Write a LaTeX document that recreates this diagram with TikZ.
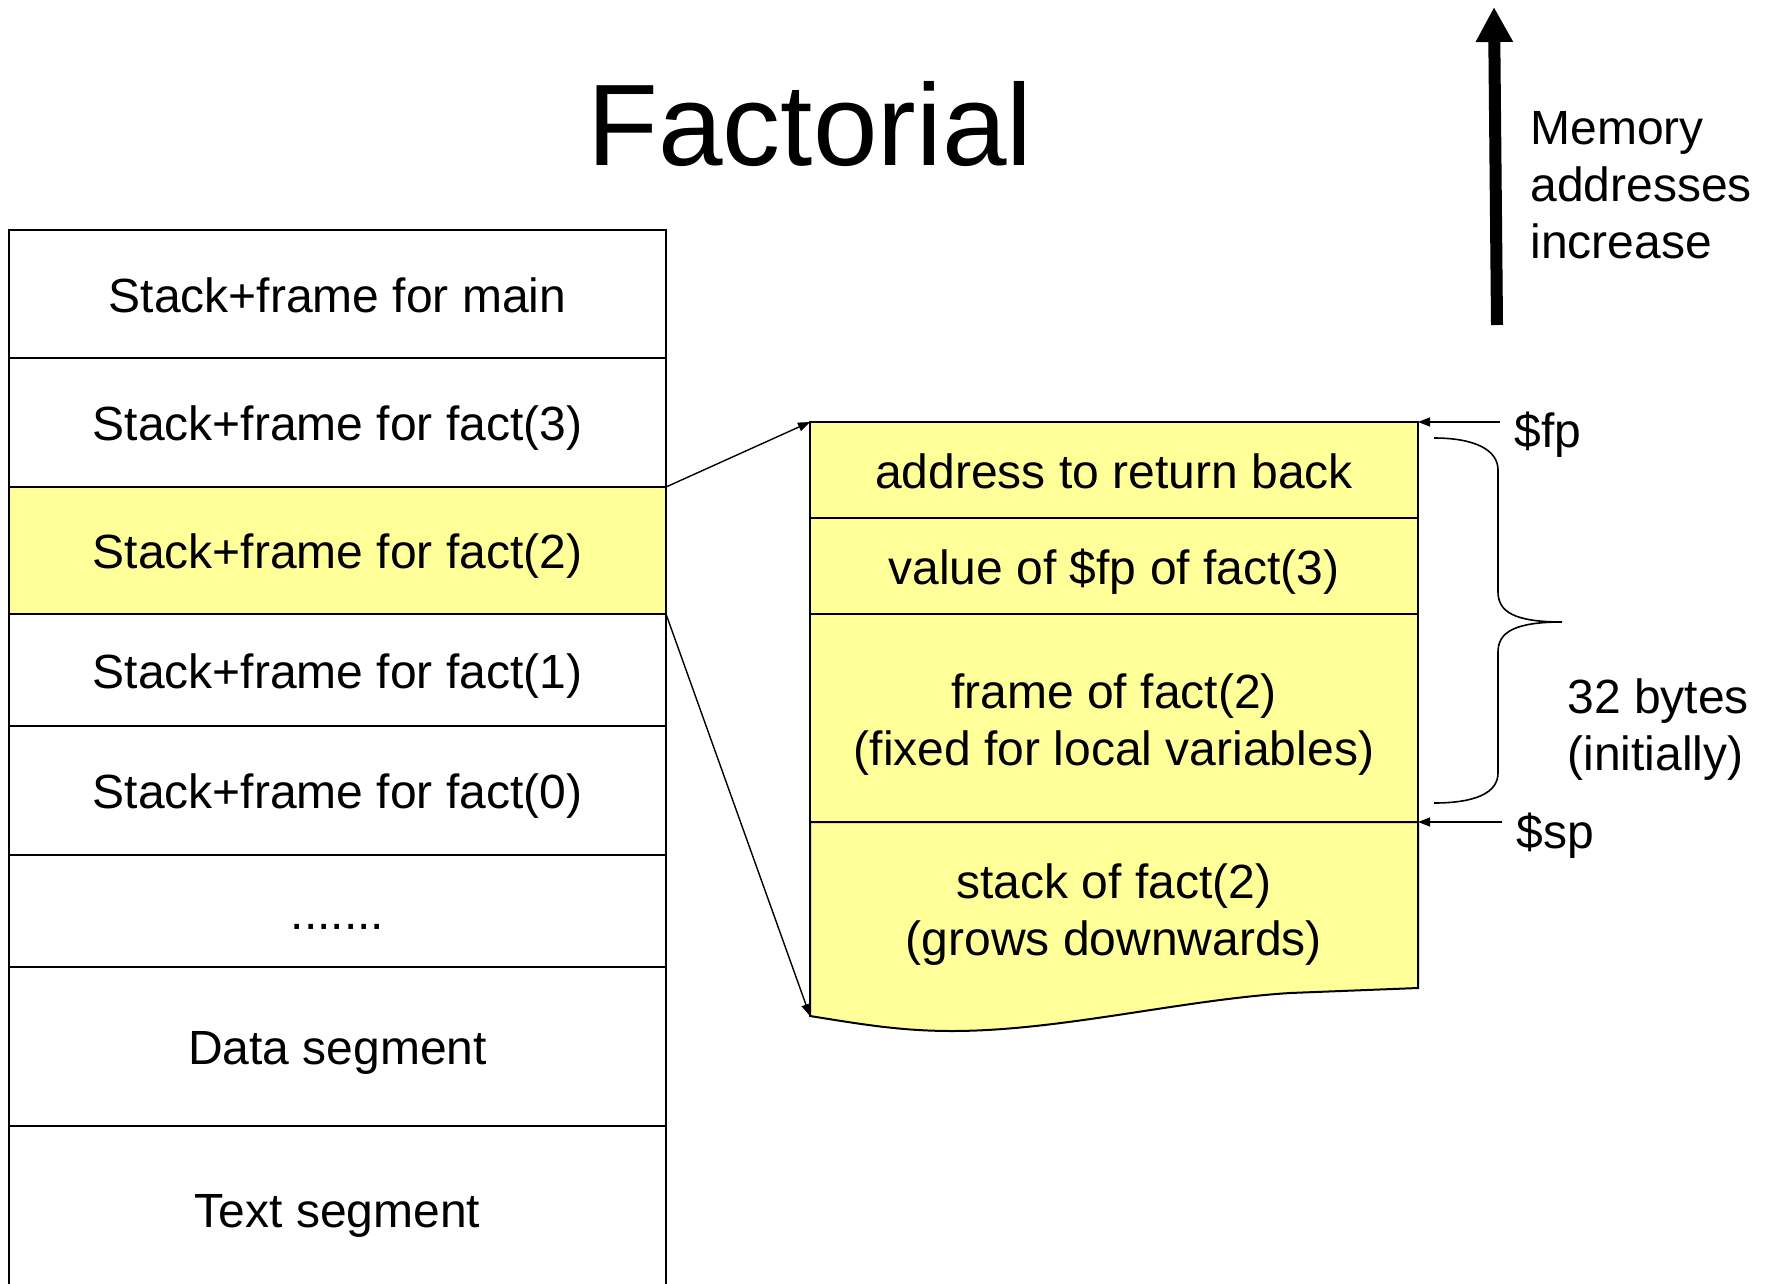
\documentclass[tikz,border=0pt]{standalone}
\usepackage{fontspec}
\setmainfont{Liberation Sans}
\usetikzlibrary{arrows.meta, positioning}
\definecolor{hiyellow}{RGB}{255,255,153}

\begin{document}
\begin{tikzpicture}[x=0.5pt, y=0.5pt,
    cell/.style={rectangle, draw, line width=1pt, outer sep=0pt, inner sep=0pt,
                 minimum width=328.5pt, align=center, text height=23.4pt, text depth=5pt,
                 font=\fontsize{24}{28.5}\selectfont},
    hicell/.style={cell, fill=hiyellow},
    slot/.style={hicell, minimum width=304pt},
    arr/.style={-{Triangle[length=6pt, width=4.5pt]}, line width=0.7pt},
    note/.style={inner sep=0pt, align=left, font=\fontsize{24}{28.5}\selectfont}
  ]
    \useasboundingbox (0,0) rectangle (1771,-1284);

    \node[font=\fontsize{58}{60}\selectfont] (title) at (810,-124) {Factorial};

    % memory layout
    \node[cell, minimum height=64pt] (main) at (337.5,-294) {Stack+frame for main};
    \node[cell, minimum height=64.5pt, below=0pt of main] (f3) {Stack+frame for fact(3)};
    \node[hicell, minimum height=63.5pt, below=0pt of f3] (f2) {Stack+frame for fact(2)};
    \node[cell, minimum height=56pt, below=0pt of f2] (f1) {Stack+frame for fact(1)};
    \node[cell, minimum height=64.5pt, below=0pt of f1] (f0) {Stack+frame for fact(0)};
    \node[cell, minimum height=56pt, below=0pt of f0] (dots) {.......};
    \node[cell, minimum height=79.5pt, below=0pt of dots] (data) {Data segment};
    \node[cell, minimum height=83pt, below=0pt of data] (text) {Text segment};

    % frame of fact(2)
    \filldraw[fill=hiyellow, line width=1pt] (810,-822) -- (1418,-822) -- (1418,-988)
      -- (1290,-993) .. controls (1180,-1000) and (1060,-1031) .. (952,-1031)
      .. controls (900,-1031) and (860,-1024) .. (810,-1016) -- cycle;
    \coordinate (stkbot) at (810,-1016);
    \node[slot, minimum height=48pt] (ret) at (1114,-470) {address to return back};
    \node[slot, minimum height=48pt, below=0pt of ret] (oldfp) {value of \$fp of fact(3)};
    \node[slot, minimum height=104pt, below=0pt of oldfp] (frm) {};
    \node[note, align=center, yshift=-3.5pt] (frmtxt) at (frm) {frame of fact(2)\\(fixed for local variables)};
    \node[note, align=center] (stk) at (1114,-915) {stack of fact(2)\\(grows downwards)};

    \draw[arr] (f2.north east) -- (ret.north west);
    \draw[arr] (f1.north east) -- (stkbot);

    % pointers
    \node[note, anchor=west] (fp) at (1514,-435) {\$fp};
    \node[note, anchor=west] (sp) at (1516,-836) {\$sp};
    \draw[arr] ([xshift=-7pt]fp.west |- ret.north east) -- (ret.north east);
    \draw[arr] ([xshift=-7pt]sp.west |- frm.south east) -- (frm.south east);

    % brace
    \draw[line width=0.8pt] (1434,-438) .. controls (1475,-438) and (1498,-450) .. (1498,-470)
      -- (1498,-592) .. controls (1498,-612) and (1515,-622) .. (1562,-622)
      .. controls (1515,-622) and (1498,-632) .. (1498,-652)
      -- (1498,-773) .. controls (1498,-793) and (1475,-803) .. (1434,-803);
    \node[note, anchor=west] (size) at (1567,-730) {32 bytes\\(initially)};

    % address direction
    \coordinate (memlo) at (1497,-325);
    \coordinate (memhi) at (1494,-7);
    \draw[line width=6pt, -{Triangle[length=17.5pt, width=17.5pt]}] (memlo) -- (memhi);
    \node[note, anchor=west] (mem) at (1530,-185) {Memory\\addresses\\increase};
\end{tikzpicture}
\end{document}
